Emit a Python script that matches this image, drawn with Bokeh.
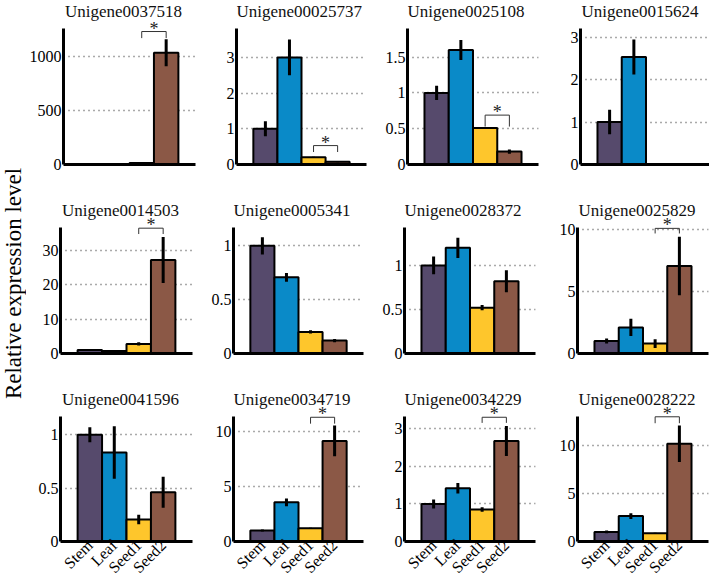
import math
from bokeh.plotting import figure
from bokeh.layouts import row, column
from bokeh.models import FixedTicker, ColumnDataSource, Range1d
from bokeh.core.properties import value
from bokeh.embed import file_html
from bokeh.resources import INLINE

# ---------------- data ----------------
tissues = ["Stem", "Leaf", "Seed1", "Seed2"]
colors = ["#564a6c", "#0a8ac8", "#fec62c", "#8b5846"]

genes = ["Unigene0037518", "Unigene00025737", "Unigene0025108", "Unigene0015624",
         "Unigene0014503", "Unigene0005341", "Unigene0028372", "Unigene0025829",
         "Unigene0041596", "Unigene0034719", "Unigene0034229", "Unigene0028222"]

mean_0037518 = [1.0, 0.8, 15.0, 1035.0]
mean_0025737 = [1.0, 3.0, 0.2, 0.08]
mean_0025108 = [1.0, 1.6, 0.51, 0.18]
mean_0015624 = [1.0, 2.53, 0.01, 0.01]
mean_0014503 = [1.0, 0.7, 2.8, 27.2]
mean_0005341 = [1.0, 0.707, 0.2, 0.12]
mean_0028372 = [1.0, 1.2, 0.52, 0.82]
mean_0025829 = [1.0, 2.1, 0.8, 7.05]
mean_0041596 = [1.0, 0.833, 0.206, 0.46]
mean_0034719 = [1.0, 3.56, 1.2, 9.13]
mean_0034229 = [1.0, 1.42, 0.85, 2.68]
mean_0028222 = [1.0, 2.64, 0.85, 10.17]

err_0037518 = [1.0, 0.5, 3.0, 125.0]
err_0025737 = [0.21, 0.5, 0.02, 0.02]
err_0025108 = [0.1, 0.14, 0.01, 0.03]
err_0015624 = [0.29, 0.41, 0.0, 0.0]
err_0014503 = [0.3, 0.1, 0.5, 6.7]
err_0005341 = [0.08, 0.04, 0.015, 0.015]
err_0028372 = [0.1, 0.115, 0.03, 0.125]
err_0025829 = [0.2, 0.7, 0.35, 2.35]
err_0041596 = [0.07, 0.245, 0.045, 0.145]
err_0034719 = [0.1, 0.35, 0.05, 1.4]
err_0034229 = [0.12, 0.14, 0.06, 0.4]
err_0028222 = [0.15, 0.3, 0.05, 1.9]

means = [mean_0037518, mean_0025737, mean_0025108, mean_0015624,
         mean_0014503, mean_0005341, mean_0028372, mean_0025829,
         mean_0041596, mean_0034719, mean_0034229, mean_0028222]
errors = [err_0037518, err_0025737, err_0025108, err_0015624,
          err_0014503, err_0005341, err_0028372, err_0025829,
          err_0041596, err_0034719, err_0034229, err_0028222]

# top of each y axis and its ticks
y_max = [1259, 3.81, 1.9, 3.2, 36.7, 1.17, 1.43, 10.15, 1.17, 11.35, 3.33, 13.0]
y_ticks = [[0, 500, 1000], [0, 1, 2, 3], [0, 0.5, 1, 1.5], [0, 1, 2, 3],
           [0, 10, 20, 30], [0, 0.5, 1], [0, 0.5, 1], [0, 5, 10],
           [0, 0.5, 1], [0, 5, 10], [0, 1, 2, 3], [0, 5, 10]]

# significance bracket between Seed1 and Seed2: (bar height, tick end)
sig_pair = ["Seed1", "Seed2"]
bracket_y = [1231, 0.53, 0.69, None, 36.5, None, None, 10.08, None, 11.28, 3.31, 12.97]
bracket_end = [1170, 0.35, 0.53, None, 34.8, None, None, 9.67, None, 10.7, 3.16, 12.3]

y_label = "Relative expression level"

# ---------------- layout / style ----------------
FONT = "Liberation Serif"
LABEL_W = 26
FRAME_W = [132, 130, 131, 131]
BORDER_L = [34, 28, 28, 28]
BORDER_R = [13, 13, 14, 1]
FRAME_H = [136, 126, 125]      # height of the drawn y axis
HEAD_H = [28, 31, 31]          # space above the axis (title, "*")
BORDER_B = [32, 32, 42]
TITLE_RISE = 17                # title anchor above axis top, px
TITLE_DX = [1.5, 0, 0, 1]
TOTAL_H = sum(FRAME_H) + sum(HEAD_H) + sum(BORDER_B)

xs = list(range(1, len(tissues) + 1))
X_START, X_END = -0.2, 5.2


def fmt(t):
    return "%g" % t


def make_panel(i, r, c):
    head = HEAD_H[r]
    top = y_max[i]
    per_px = top / FRAME_H[r]
    p = figure(frame_width=FRAME_W[c], frame_height=FRAME_H[r] + head,
               x_range=Range1d(X_START, X_END),
               y_range=Range1d(0, top + head * per_px),
               min_border_left=BORDER_L[c], min_border_right=BORDER_R[c],
               min_border_top=0, min_border_bottom=BORDER_B[r],
               output_backend="svg", toolbar_location=None, tools="")
    p.outline_line_color = None

    # panel title
    p.text(x=[X_START], y=[top + TITLE_RISE * per_px], text=[genes[i]],
           x_offset=TITLE_DX[c], text_align="left", text_baseline="alphabetic",
           text_font=value(FONT), text_font_size="17px", text_color="#111111")

    m = means[i]
    er = errors[i]
    src = ColumnDataSource(dict(x=xs, top=m, color=colors,
                                lo=[a - b for a, b in zip(m, er)],
                                hi=[a + b for a, b in zip(m, er)]))
    p.vbar(x="x", top="top", bottom=0, width=1.0, fill_color="color",
           line_color="black", line_width=2, source=src)
    p.segment(x0="x", y0="lo", x1="x", y1="hi", line_color="black",
              line_width=3, source=src)

    if bracket_y[i] is not None:
        s1 = xs[tissues.index(sig_pair[0])]
        s2 = xs[tissues.index(sig_pair[1])]
        by, be = bracket_y[i], bracket_end[i]
        p.line(x=[s1, s1, s2, s2], y=[be, by, by, be], line_color="#333333",
               line_width=1)
        p.text(x=[(s1 + s2) / 2], y=[by + 3 * per_px], text=["*"],
               text_align="center", text_baseline="middle",
               text_font=value(FONT), text_font_size="18px",
               text_color="#222222")

    # axes
    p.yaxis.ticker = FixedTicker(ticks=y_ticks[i])
    p.yaxis.major_label_overrides = {t: fmt(t) for t in y_ticks[i]}
    p.yaxis.bounds = (0, top)
    if r == 2:
        p.xaxis.ticker = FixedTicker(ticks=xs)
        p.xaxis.major_label_overrides = {x: t for x, t in zip(xs, tissues)}
        p.xaxis.major_label_orientation = math.pi / 4
    else:
        p.xaxis.ticker = FixedTicker(ticks=[])
    for ax in (p.xaxis, p.yaxis):
        ax.axis_line_width = 3
        ax.axis_line_color = "black"
        ax.major_tick_in = 0
        ax.major_tick_out = 0
        ax.minor_tick_in = 0
        ax.minor_tick_out = 0
        ax.major_label_text_font = FONT
        ax.major_label_text_color = "black"
    p.yaxis.major_label_text_font_size = "16px"
    p.yaxis.major_label_standoff = 2
    p.xaxis.major_label_text_font_size = "16px"
    p.xaxis.major_label_standoff = 1
    p.xgrid.visible = False
    p.ygrid.ticker = FixedTicker(ticks=[t for t in y_ticks[i] if t > 0])
    p.ygrid.grid_line_color = "#555555"
    p.ygrid.grid_line_dash = "1 4"
    p.ygrid.grid_line_width = 1.3
    return p


rows = []
for r in range(3):
    rows.append(row(*[make_panel(r * 4 + c, r, c) for c in range(4)]))

lab_fig = figure(width=LABEL_W, height=TOTAL_H, x_range=Range1d(0, 1),
                 y_range=Range1d(0, 1), x_axis_type=None, y_axis_type=None,
                 min_border=0, output_backend="svg", toolbar_location=None,
                 tools="")
lab_fig.outline_line_color = None
lab_fig.grid.visible = False
lab_fig.text(x=[0.5], y=[1 - 283 / TOTAL_H], text=[y_label], angle=math.pi / 2,
             text_align="center", text_baseline="middle",
             text_font=value(FONT), text_font_size="23px", text_color="black")

layout = row(lab_fig, column(*rows))
open("out.html", "w").write(file_html(layout, INLINE))
